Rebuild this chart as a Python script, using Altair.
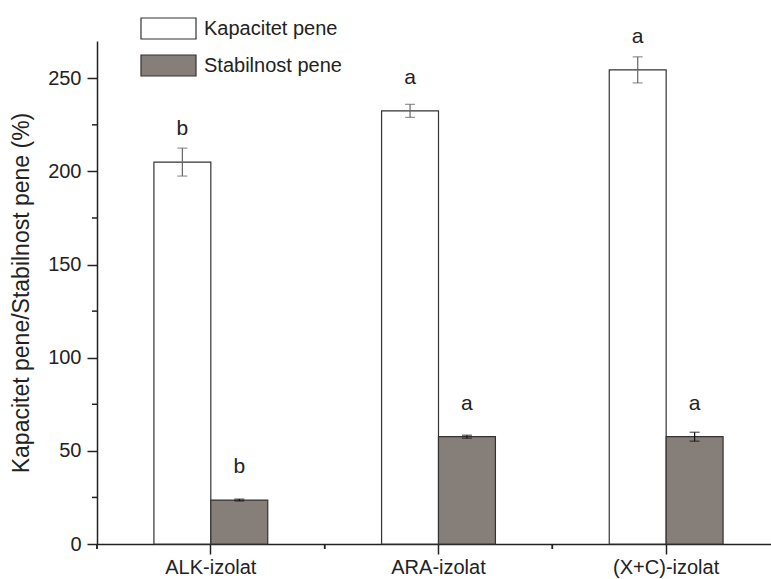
import altair as alt
import pandas as pd

categories = ["ALK-izolat", "ARA-izolat", "(X+C)-izolat"]
series = ["Kapacitet pene", "Stabilnost pene"]
kapacitet = [205.0, 232.5, 254.5]
kapacitet_err = [7.5, 3.5, 7.0]
kapacitet_letters = ["b", "a", "a"]
stabilnost = [23.6, 57.6, 57.6]
stabilnost_err = [0.5, 0.8, 2.4]
stabilnost_letters = ["b", "a", "a"]
y_major = [0, 50, 100, 150, 200, 250]
y_minor = [25, 75, 125, 175, 225]

rows = []
for i, c in enumerate(categories):
    rows.append(dict(cat=c, series=series[0], value=kapacitet[i], err=kapacitet_err[i],
                     letter=kapacitet_letters[i]))
    rows.append(dict(cat=c, series=series[1], value=stabilnost[i], err=stabilnost_err[i],
                     letter=stabilnost_letters[i]))
df = pd.DataFrame(rows)
df["lo"] = df["value"] - df["err"]
df["hi"] = df["value"] + df["err"]

FONT = "Liberation Sans"
INK = "#222222"

xscale = alt.Scale(domain=categories, range=[0, 683], paddingInner=0, paddingOuter=0)
xoff = alt.XOffset("series:N", sort=series, scale=alt.Scale(paddingInner=0, paddingOuter=1))
yscale = alt.Scale(domain=[0, 270], nice=False, zero=True)

x_enc = alt.X("cat:N", sort=categories, scale=xscale,
              axis=alt.Axis(title=None, labelAngle=0, labelFontSize=20, labelFont=FONT,
                            labelColor=INK, tickSize=10, tickColor=INK, tickWidth=1.5,
                            domainColor=INK, domainWidth=1.5, labelPadding=3, grid=False))
y_enc = alt.Y("value:Q", scale=yscale,
              axis=alt.Axis(title="Kapacitet pene/Stabilnost pene (%)", values=y_major,
                            titleFontSize=23, titleFont=FONT, titleFontWeight="normal",
                            titleColor=INK, titlePadding=14,
                            labelFontSize=20, labelFont=FONT, labelColor=INK,
                            tickSize=10, tickColor=INK, tickWidth=1.5,
                            domainColor=INK, domainWidth=1.5, labelPadding=6, grid=False))

base = alt.Chart(df)

bars = base.mark_bar(stroke="#333333", strokeWidth=1.2).encode(
    x=x_enc,
    xOffset=xoff,
    y=y_enc,
    color=alt.Color("series:N", sort=series,
                    scale=alt.Scale(domain=series, range=["#ffffff", "#867e79"]),
                    legend=alt.Legend(title=None, orient="none", legendX=60, legendY=-24,
                                      symbolType="M-2.62,-1L2.62,-1L2.62,1L-2.62,1Z",
                                      symbolSize=441, symbolStrokeColor="#333333",
                                      symbolStrokeWidth=1.2, symbolOpacity=1,
                                      labelFontSize=20, labelFont=FONT, labelColor=INK,
                                      labelOffset=24, rowPadding=10, padding=0)),
)

err_stroke = alt.Stroke("series:N", scale=alt.Scale(domain=series, range=["#666666", "#111111"]),
                        legend=None)

err_rule = base.mark_rule(strokeWidth=1.2).encode(
    x=alt.X("cat:N", sort=categories, scale=xscale),
    xOffset=xoff,
    y=alt.Y("lo:Q", scale=yscale),
    y2="hi:Q",
    stroke=err_stroke,
)
cap_lo = base.mark_tick(thickness=1.2, size=10, orient="horizontal").encode(
    x=alt.X("cat:N", sort=categories, scale=xscale),
    xOffset=xoff,
    y=alt.Y("lo:Q", scale=yscale),
    color=alt.Color("series:N", scale=alt.Scale(domain=series, range=["#666666", "#111111"]), legend=None),
)
cap_hi = base.mark_tick(thickness=1.2, size=10, orient="horizontal").encode(
    x=alt.X("cat:N", sort=categories, scale=xscale),
    xOffset=xoff,
    y=alt.Y("hi:Q", scale=yscale),
    color=alt.Color("series:N", scale=alt.Scale(domain=series, range=["#666666", "#111111"]), legend=None),
)

letters = base.mark_text(dy=-33, fontSize=21, font=FONT, color=INK, baseline="middle").encode(
    x=alt.X("cat:N", sort=categories, scale=xscale),
    xOffset=xoff,
    y=alt.Y("value:Q", scale=yscale),
    text="letter:N",
)

minor_y = alt.Chart(pd.DataFrame({"v": y_minor})).mark_rule(color=INK, strokeWidth=1.5).encode(
    y=alt.Y("v:Q", scale=yscale),
    x=alt.value(-5),
    x2=alt.value(0),
)

minor_x = base.mark_rule(color=INK, strokeWidth=1.5).encode(
    x=alt.X("cat:N", sort=categories, scale=xscale, bandPosition=0),
    y=alt.value(503),
    y2=alt.value(508),
)

chart = alt.layer(bars, err_rule, cap_lo, cap_hi, letters, minor_y, minor_x).resolve_scale(
    color="independent"
).properties(
    width=674,
    height=503,
    autosize=alt.AutoSizeParams(type="none"),
    padding={"left": 97, "top": 41, "right": 0, "bottom": 35},
    background="white",
).configure_view(stroke=None)

chart.save("out.html", embed_options={"renderer": "svg", "actions": False})
